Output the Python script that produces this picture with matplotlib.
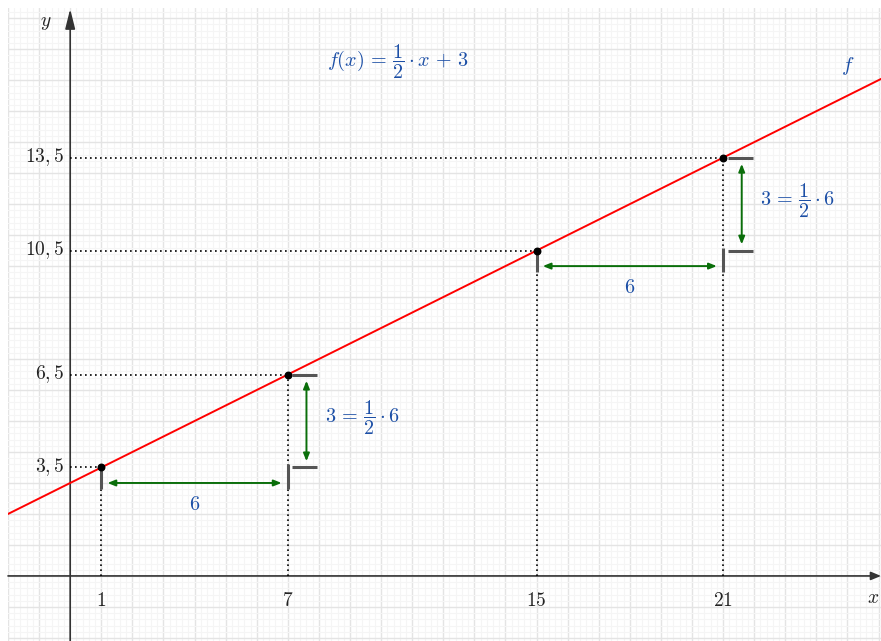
import matplotlib
matplotlib.use("Agg")
import matplotlib.pyplot as plt
import numpy as np
from matplotlib.ticker import MultipleLocator

plt.rcParams['mathtext.fontset'] = 'cm'
plt.rcParams['font.family'] = ['DejaVu Serif']

# data
x_points = [1, 7, 15, 21]
y_points = [3.5, 6.5, 10.5, 13.5]
x_tick_labels = ["1", "7", "15", "21"]
y_tick_labels = ["3,5", "6,5", "10,5", "13,5"]
slope = 0.5
intercept = 3
func_label = r"$f(x)\,=\,\dfrac{1}{2}\cdot x\,+\,3$"
step_label = r"$3\,=\,\dfrac{1}{2}\cdot 6$"
run_label = "6"

xmin, xmax = -2.0, 26.08
ymin, ymax = -2.1, 18.33

fig = plt.figure(figsize=(8.81, 6.41), dpi=100)
ax = fig.add_axes([8/881, 0, 1 - 8/881, 1 - 8/641])
ax.set_xlim(xmin, xmax)
ax.set_ylim(ymin, ymax)
for s in ax.spines.values():
    s.set_visible(False)
ax.xaxis.set_major_locator(MultipleLocator(1))
ax.yaxis.set_major_locator(MultipleLocator(1))
ax.xaxis.set_minor_locator(MultipleLocator(0.2))
ax.yaxis.set_minor_locator(MultipleLocator(0.2))
ax.grid(which='major', color='#e4e4e4', lw=1.0)
ax.grid(which='minor', color='#f5f5f5', lw=0.8)
ax.tick_params(which='both', length=0, labelbottom=False, labelleft=False)
ax.set_axisbelow(True)

axis_col = '#333333'
txt_col = '#1c4fa6'
# axes with arrows
ax.annotate('', xy=(xmax, 0), xytext=(xmin, 0),
            arrowprops=dict(arrowstyle='-|>,head_length=0.6,head_width=0.25', color=axis_col, lw=1.2, shrinkA=0, shrinkB=0))
ax.annotate('', xy=(0, 18.3), xytext=(0, ymin),
            arrowprops=dict(arrowstyle='-|>,head_length=1.2,head_width=0.3', color=axis_col, lw=1.2, shrinkA=0, shrinkB=0))
ax.text(25.82, -0.7, r"$x$", fontsize=14, ha='center', va='center', color='#222222')
ax.text(-0.8, 17.85, r"$y$", fontsize=14, ha='center', va='center', color='#222222')

# tick labels
for xv, lab in zip(x_points, x_tick_labels):
    ax.text(xv, -0.8, "$" + lab + "$", fontsize=14, ha='center', va='center', color='#222222')
for yv, lab in zip(y_points, y_tick_labels):
    ax.text(-0.2, yv + 0.03, "$" + lab + "$", fontsize=14, ha='right', va='center', color='#222222')

# function line
xs = np.array([xmin, xmax])
ax.plot(xs, slope * xs + intercept, color='#ff0000', lw=1.4, zorder=4)
ax.text(25.0, 16.45, r"$f$", fontsize=15, color=txt_col, ha='center', va='center')
ax.text(10.55, 16.6, func_label, fontsize=14.5, color=txt_col, ha='center', va='center')

# dotted helper lines
for xv, yv in zip(x_points, y_points):
    ax.plot([xv, xv], [0, yv], color='black', lw=1.2, ls=(0, (1, 2)), zorder=3)
    ax.plot([0, xv], [yv, yv], color='black', lw=1.2, ls=(0, (1, 2)), zorder=3)
ax.scatter(x_points, y_points, s=22, color='black', zorder=6)

mark_col = '#555555'
green = '#0a6e0a'
arrow_kw = dict(arrowstyle='<|-|>,head_length=0.45,head_width=0.18', color=green, lw=1.4, shrinkA=0, shrinkB=0)

# two triangles
for (x0, y0), (x1, y1) in [((x_points[0], y_points[0]), (x_points[1], y_points[1])),
                           ((x_points[2], y_points[2]), (x_points[3], y_points[3]))]:
    # vertical marks below run start/end
    ax.plot([x0, x0], [y0, y0 - 0.7], color=mark_col, lw=2.2, solid_capstyle='butt', zorder=5)
    ax.plot([x1, x1], [y0 + 0.1, y0 - 0.7], color=mark_col, lw=2.2, solid_capstyle='butt', zorder=5)
    # horizontal marks at the rise start/end
    ax.plot([x1 + 0.15, x1 + 0.95], [y1, y1], color=mark_col, lw=2.2, solid_capstyle='butt', zorder=5)
    ax.plot([x1 + 0.15, x1 + 0.95], [y0, y0], color=mark_col, lw=2.2, solid_capstyle='butt', zorder=5)
    # green arrows
    ax.annotate('', xy=(x1 - 0.2, y0 - 0.5), xytext=(x0 + 0.2, y0 - 0.5), arrowprops=arrow_kw, zorder=5)
    ax.annotate('', xy=(x1 + 0.6, y0 + 0.2), xytext=(x1 + 0.6, y1 - 0.2), arrowprops=arrow_kw, zorder=5)
    ax.text((x0 + x1) / 2, y0 - 1.2, "$" + run_label + "$", fontsize=14.5, color=txt_col, ha='center', va='center')
    ax.text(x1 + 1.2, (y0 + y1) / 2 + 0.1, step_label, fontsize=14.5, color=txt_col, ha='left', va='center')

fig.savefig("out.png", dpi=100)
